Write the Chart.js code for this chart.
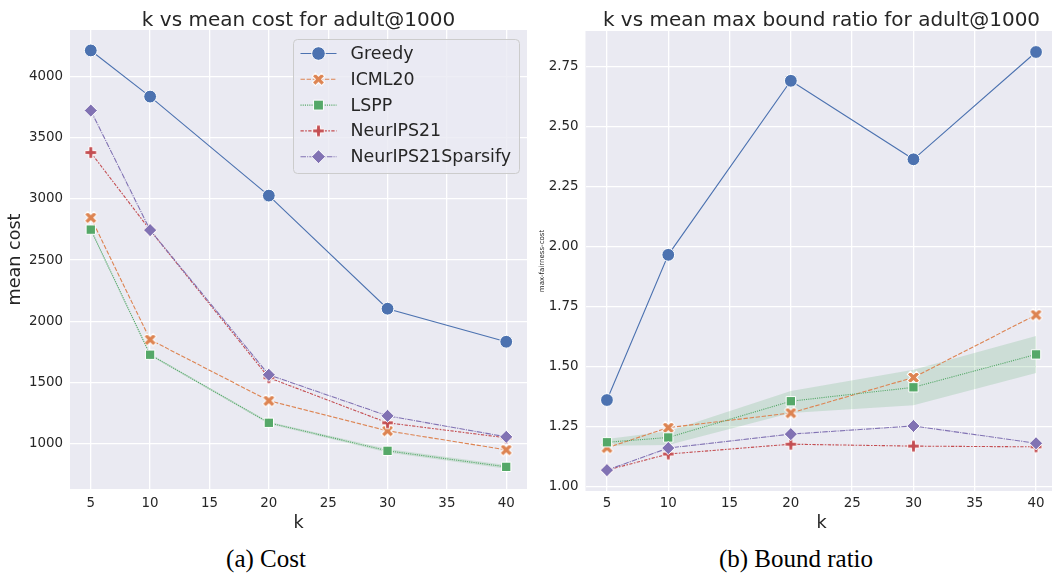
<!DOCTYPE html>
<html>
<head>
<meta charset="utf-8">
<script src="https://cdn.jsdelivr.net/npm/chart.js@4.4.1/dist/chart.umd.min.js"></script>
<style>
  body { margin: 0; background: #fff; width: 1052px; height: 573px; overflow: hidden; position: relative; }
  .panel { position: absolute; top: 0; width: 535px; height: 534px; }
  #left { left: 0; }
  #right { left: 535px; }
  .caption { position: absolute; top: 545px; font-family: "Liberation Serif", serif; font-size: 25px; color: #000; transform: translateX(-50%); white-space: nowrap; }
</style>
</head>
<body>
<div class="panel" id="left"><canvas id="costChart"></canvas></div>
<div class="panel" id="right"><canvas id="ratioChart"></canvas></div>
<div class="caption" style="left:266px">(a) Cost</div>
<div class="caption" style="left:796px">(b) Bound ratio</div>
<script>
const kValues = [5, 10, 20, 30, 40];
const kTicks = [5, 10, 15, 20, 25, 30, 35, 40];
const methods = ['Greedy', 'ICML20', 'LSPP', 'NeurIPS21', 'NeurIPS21Sparsify'];

const costTicks = [1000, 1500, 2000, 2500, 3000, 3500, 4000];
const costGreedy = [4213, 3836, 3027, 2103, 1833];
const costIcml20 = [2847, 1850, 1351, 1105, 950];
const costLspp = [2749, 1727, 1171, 942, 811];
const costNeurips21 = [3379, 2745, 1539, 1171, 1048];
const costSparsify = [3722, 2745, 1563, 1228, 1056];
const costLsppLow = [2738, 1718, 1162, 928, 796];
const costLsppHigh = [2760, 1736, 1180, 956, 826];

const ratioTicks = [1.0, 1.25, 1.5, 1.75, 2.0, 2.25, 2.5, 2.75];
const ratioGreedy = [1.362, 1.967, 2.692, 2.365, 2.812];
const ratioIcml20 = [1.163, 1.247, 1.308, 1.456, 1.717];
const ratioLspp = [1.186, 1.206, 1.357, 1.415, 1.552];
const ratioNeurips21 = [1.07, 1.137, 1.178, 1.17, 1.167];
const ratioSparsify = [1.07, 1.162, 1.22, 1.254, 1.182];
const ratioLsppLow = [1.172, 1.175, 1.308, 1.34, 1.475];
const ratioLsppHigh = [1.2, 1.232, 1.4, 1.488, 1.629];

const colors = {
  Greedy: '#4C72B0',
  ICML20: '#DD8452',
  LSPP: '#55A868',
  NeurIPS21: '#C44E52',
  NeurIPS21Sparsify: '#8172B3'
};
const dashes = {
  Greedy: [],
  ICML20: [4.4, 1.7],
  LSPP: [1.1, 1.1],
  NeurIPS21: [3.3, 1.4, 1.6, 1.4],
  NeurIPS21Sparsify: [5.5, 1.1, 1.1, 1.1]
};
const ink = '#262626';
const face = '#EAEAF2';

function crossMarker(color, rotated, arm, half) {
  const size = 19;
  const c = document.createElement('canvas');
  c.width = c.height = size;
  const g = c.getContext('2d');
  g.translate(size / 2, size / 2);
  if (rotated) g.rotate(Math.PI / 4);
  const a = arm, t = half;
  g.beginPath();
  g.moveTo(-t, -a); g.lineTo(t, -a); g.lineTo(t, -t); g.lineTo(a, -t);
  g.lineTo(a, t); g.lineTo(t, t); g.lineTo(t, a); g.lineTo(-t, a);
  g.lineTo(-t, t); g.lineTo(-a, t); g.lineTo(-a, -t); g.lineTo(-t, -t);
  g.closePath();
  g.fillStyle = color;
  g.fill();
  g.strokeStyle = '#fff';
  g.lineWidth = 1;
  g.stroke();
  return c;
}

const markers = {
  Greedy: { style: 'circle', radius: 6.4 },
  ICML20: { style: crossMarker(colors.ICML20, true, 6.6, 2.2), radius: 6 },
  LSPP: { style: 'rect', radius: 6.6 },
  NeurIPS21: { style: crossMarker(colors.NeurIPS21, false, 5.8, 1.9), radius: 6 },
  NeurIPS21Sparsify: { style: 'rectRot', radius: 6.6 }
};

function points(values) {
  return kValues.map((k, i) => ({ x: k, y: values[i] }));
}

function seriesDataset(name, values, order) {
  return {
    label: name,
    data: points(values),
    borderColor: colors[name],
    backgroundColor: colors[name],
    borderWidth: 1.1,
    borderDash: dashes[name],
    pointStyle: markers[name].style,
    pointRadius: markers[name].radius,
    pointBorderColor: '#fff',
    pointBorderWidth: 1,
    fill: false,
    tension: 0,
    order
  };
}

function bandDatasets(low, high, color) {
  return [
    { label: '_band', data: points(low), borderWidth: 0, pointRadius: 0, fill: false, order: 10 },
    { label: '_band', data: points(high), borderWidth: 0, pointRadius: 0, fill: '-1', backgroundColor: color, order: 10 }
  ];
}

const plotFace = {
  id: 'plotFace',
  beforeDraw(chart) {
    const { ctx, chartArea: a } = chart;
    ctx.save();
    ctx.fillStyle = face;
    ctx.fillRect(a.left, a.top, a.right - a.left, a.bottom - a.top);
    ctx.restore();
  }
};

const axTitle = {
  id: 'axTitle',
  afterDraw(chart, args, opts) {
    const { ctx, chartArea: a } = chart;
    ctx.save();
    ctx.font = '20px "DejaVu Sans"';
    ctx.fillStyle = ink;
    ctx.textAlign = 'center';
    ctx.textBaseline = 'alphabetic';
    ctx.fillText(opts.text, (a.left + a.right) / 2, opts.baseline);
    ctx.restore();
  }
};

const boxLegend = {
  id: 'boxLegend',
  afterDraw(chart, args, opts) {
    if (!opts.show) return;
    const ctx = chart.ctx;
    const { x, y, w, h } = opts;
    ctx.save();
    ctx.beginPath();
    ctx.roundRect(x, y, w, h, 4);
    ctx.fillStyle = 'rgba(234,234,242,0.8)';
    ctx.fill();
    ctx.strokeStyle = '#CCCCCC';
    ctx.lineWidth = 1;
    ctx.stroke();
    ctx.font = '17.4px "DejaVu Sans"';
    ctx.textBaseline = 'middle';
    methods.forEach((name, i) => {
      const cy = y + 14 + i * 25.8;
      ctx.strokeStyle = colors[name];
      ctx.lineWidth = 1.1;
      ctx.setLineDash(dashes[name]);
      ctx.beginPath();
      ctx.moveTo(x + 7, cy);
      ctx.lineTo(x + 43, cy);
      ctx.stroke();
      ctx.setLineDash([]);
      ctx.fillStyle = colors[name];
      ctx.strokeStyle = '#fff';
      ctx.lineWidth = 1;
      Chart.helpers.drawPoint(ctx, { pointStyle: markers[name].style, radius: markers[name].radius + 0.4, rotation: 0, borderWidth: 1 }, x + 25, cy);
      ctx.fillStyle = ink;
      ctx.fillText(name, x + 57, cy + 1);
    });
    ctx.restore();
  }
};

function makeChart(id, cfg) {
  const fixedTicks = values => scale => { scale.ticks = values.map(v => ({ value: v })); };
  return new Chart(document.getElementById(id), {
    type: 'line',
    data: { datasets: cfg.datasets },
    options: {
      responsive: true,
      maintainAspectRatio: false,
      animation: false,
      events: [],
      layout: { padding: { top: cfg.top, right: cfg.right, left: 0, bottom: 0 } },
      scales: {
        x: {
          type: 'linear',
          min: 3.25,
          max: 41.75,
          afterBuildTicks: fixedTicks(kTicks),
          afterFit: scale => { scale.height = cfg.xHeight; },
          grid: { color: '#fff', lineWidth: 1.3, drawTicks: false },
          border: { display: false },
          ticks: { color: ink, font: { family: 'DejaVu Sans', size: 13.4 }, padding: cfg.xPad, maxRotation: 0 },
          title: { display: true, text: 'k', color: ink, font: { family: 'DejaVu Sans', size: 17.6 }, padding: { top: 0, bottom: 0 } }
        },
        y: {
          type: 'linear',
          min: cfg.yMin,
          max: cfg.yMax,
          afterBuildTicks: fixedTicks(cfg.yTicks),
          afterFit: scale => { scale.width = cfg.yWidth; },
          grid: { color: '#fff', lineWidth: 1.3, drawTicks: false },
          border: { display: false },
          ticks: { color: ink, font: { family: 'DejaVu Sans', size: 13.4 }, padding: 7, callback: cfg.tickFormat },
          title: { display: true, text: cfg.yLabel, color: ink, font: { family: 'DejaVu Sans', size: cfg.yLabelSize }, padding: { top: cfg.yLabelPad, bottom: 0 } }
        }
      },
      plugins: {
        legend: { display: false },
        tooltip: { enabled: false },
        axTitle: { text: cfg.title, baseline: 26 },
        boxLegend: cfg.legend
      }
    },
    plugins: [plotFace, axTitle, boxLegend]
  });
}

makeChart('costChart', {
  title: 'k vs mean cost for adult@1000',
  datasets: [
    ...bandDatasets(costLsppLow, costLsppHigh, 'rgba(85,168,104,0.2)'),
    seriesDataset('Greedy', costGreedy, 5),
    seriesDataset('ICML20', costIcml20, 4),
    seriesDataset('LSPP', costLspp, 3),
    seriesDataset('NeurIPS21', costNeurips21, 2),
    seriesDataset('NeurIPS21Sparsify', costSparsify, 1)
  ],
  yMin: 630,
  yMax: 4380,
  yTicks: costTicks,
  tickFormat: v => String(v),
  yLabel: 'mean cost',
  yLabelSize: 17.6,
  yLabelPad: 5,
  yWidth: 70,
  xHeight: 45,
  xPad: 6.5,
  top: 30,
  right: 8,
  legend: { show: true, x: 293.5, y: 39.5, w: 226, h: 134 }
});

makeChart('ratioChart', {
  title: 'k vs mean max bound ratio for adult@1000',
  datasets: [
    ...bandDatasets(ratioLsppLow, ratioLsppHigh, 'rgba(85,168,104,0.2)'),
    seriesDataset('Greedy', ratioGreedy, 5),
    seriesDataset('ICML20', ratioIcml20, 4),
    seriesDataset('LSPP', ratioLspp, 3),
    seriesDataset('NeurIPS21', ratioNeurips21, 2),
    seriesDataset('NeurIPS21Sparsify', ratioSparsify, 1)
  ],
  yMin: 0.983,
  yMax: 2.8995,
  yTicks: ratioTicks,
  tickFormat: v => v.toFixed(2),
  yLabel: 'max-fairness-cost',
  yLabelSize: 7,
  yLabelPad: 3,
  yWidth: 50.5,
  xHeight: 43,
  xPad: 4.5,
  top: 31,
  right: 12.5,
  legend: { show: false }
});
</script>
</body>
</html>
